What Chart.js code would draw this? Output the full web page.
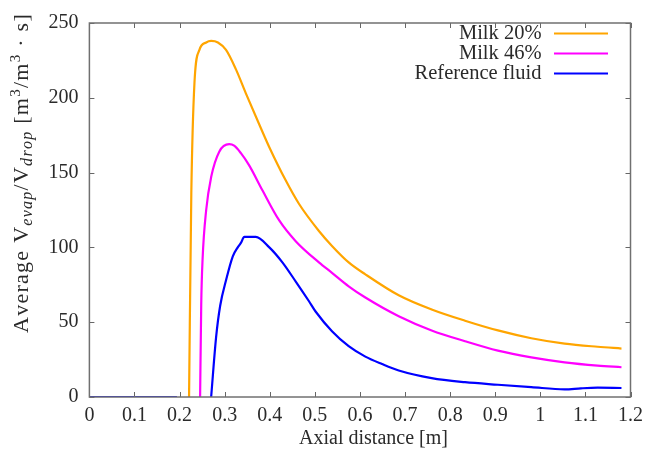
<!DOCTYPE html>
<html><head><meta charset="utf-8">
<script src="https://cdn.jsdelivr.net/npm/chart.js@4/dist/chart.umd.min.js"></script>
<style>html,body{margin:0;padding:0;background:#fff}#wrap{width:650px;height:451px;position:relative}</style>
</head><body><div id="wrap"><canvas id="c"></canvas></div>
<script>
const xTickValues = [0, 0.1, 0.2, 0.3, 0.4, 0.5, 0.6, 0.7, 0.8, 0.9, 1.0, 1.1, 1.2];
const xTickLabels = ['0', '0.1', '0.2', '0.3', '0.4', '0.5', '0.6', '0.7', '0.8', '0.9', '1', '1.1', '1.2'];
const yTickValues = [0, 50, 100, 150, 200, 250];
const seriesNames = ['Milk 20%', 'Milk 46%', 'Reference fluid'];
const xTitle = 'Axial distance [m]';

const milk20X = [0, 0.194, 0.2, 0.221, 0.226, 0.233, 0.244, 0.259, 0.27, 0.285, 0.303, 0.325, 0.347, 0.377, 0.399, 0.435, 0.465, 0.509, 0.538, 0.575, 0.612, 0.686, 0.759, 0.833, 0.906, 0.98, 1.054, 1.127, 1.18];
const milk20Y = [0, 0, null, 0, 136, 210, 232, 237, 238, 237, 232, 219, 203, 182, 167, 145, 129, 111, 101, 90, 82, 68, 58.5, 51, 44.5, 39.3, 35.7, 33.6, 32.4];

const milk46X = [0, 0.194, 0.2, 0.2455, 0.248, 0.251, 0.259, 0.27, 0.288, 0.31, 0.321, 0.336, 0.354, 0.384, 0.421, 0.458, 0.509, 0.538, 0.575, 0.612, 0.686, 0.759, 0.833, 0.906, 0.98, 1.054, 1.127, 1.18];
const milk46Y = [0, 0, null, 0, 62, 92, 125, 147, 164, 169, 168, 163, 155, 138, 118, 104, 90, 83, 74, 66.5, 54, 44.5, 37.3, 31, 26.5, 23.2, 21, 19.9];

const refX = [0, 0.194, 0.2, 0.27, 0.281, 0.29, 0.303, 0.318, 0.329, 0.336, 0.3435, 0.369, 0.399, 0.428, 0.458, 0.487, 0.502, 0.538, 0.575, 0.612, 0.649, 0.686, 0.759, 0.833, 0.906, 0.98, 1.054, 1.09, 1.127, 1.18];
const refY = [0, 0, null, 0, 40, 61, 78, 94, 100, 103, 107, 107, 100, 90, 77, 64, 57, 44, 34, 27, 22, 17.7, 12.6, 9.9, 8.2, 6.6, 5.1, 5.8, 6.2, 6];

const colors = ['#FFA500', '#FF00FF', '#0000FF'];
const FONT = '"Liberation Serif", "Times New Roman", serif';
const TEXT = '#2a2a2a';

function pts(xs, ys) { return xs.map((x, i) => ({x: x, y: ys[i]})); }

const decor = {
  id: 'decor',
  afterDraw(chart) {
    const ctx = chart.ctx;
    const a = chart.chartArea;
    const xs = chart.scales.x, ys = chart.scales.y;
    ctx.save();
    // inner ticks
    ctx.strokeStyle = '#666';
    ctx.lineWidth = 1;
    const TL = 5;
    xTickValues.forEach(v => {
      const p = Math.round(xs.getPixelForValue(v)) + 0.5;
      ctx.beginPath();
      ctx.moveTo(p, a.bottom); ctx.lineTo(p, a.bottom - TL);
      ctx.moveTo(p, a.top); ctx.lineTo(p, a.top + TL);
      ctx.stroke();
    });
    yTickValues.forEach(v => {
      const p = Math.round(ys.getPixelForValue(v)) + 0.5;
      ctx.beginPath();
      ctx.moveTo(a.left, p); ctx.lineTo(a.left + TL, p);
      ctx.moveTo(a.right, p); ctx.lineTo(a.right - TL, p);
      ctx.stroke();
    });
    // frame
    ctx.strokeStyle = '#707070';
    ctx.lineWidth = 1.5;
    ctx.strokeRect(a.left, a.top, a.right - a.left, a.bottom - a.top);

    // legend
    ctx.font = '20.5px ' + FONT;
    ctx.fillStyle = TEXT;
    ctx.textAlign = 'right';
    ctx.textBaseline = 'middle';
    seriesNames.forEach((n, i) => {
      const y = 33.5 + i * 20;
      ctx.fillText(n, 541.5, y);
      ctx.strokeStyle = colors[i];
      ctx.lineWidth = 2.2;
      ctx.beginPath();
      ctx.moveTo(554, y); ctx.lineTo(608, y);
      ctx.stroke();
    });

    // x title
    ctx.textAlign = 'center';
    ctx.textBaseline = 'alphabetic';
    ctx.fillStyle = TEXT;
    ctx.font = '20px ' + FONT;
    ctx.fillText(xTitle, 373.5, 444);

    // y title (rotated, with sub/superscripts), spread to span y=333..13
    const parts = [
      ['Average V', 'n'], ['evap', 'sub'], ['/V', 'n'], ['drop', 'sub'],
      [' [m', 'n'], ['3', 'sup'], ['/m', 'n'], ['3', 'sup'], [' \u00B7 s]', 'n']
    ];
    const setF = k => {
      if (k === 'n') ctx.font = '22px ' + FONT;
      else if (k === 'sub') ctx.font = 'italic 16px ' + FONT;
      else ctx.font = '15px ' + FONT;
    };
    let total = 0, nch = 0;
    parts.forEach(([t, k]) => { setF(k); for (const ch of t) { total += ctx.measureText(ch).width; nch++; } });
    const sp = Math.max(0, (320 - total) / nch);
    ctx.translate(28, 333);
    ctx.rotate(-Math.PI / 2);
    ctx.textAlign = 'left';
    let cx = 0;
    parts.forEach(([t, k]) => {
      setF(k);
      const dy = k === 'sub' ? 4 : (k === 'sup' ? -8.5 : 0);
      for (const ch of t) {
        ctx.fillText(ch, cx, dy);
        cx += ctx.measureText(ch).width + sp;
      }
    });
    ctx.restore();
  }
};

const chart = new Chart(document.getElementById('c'), {
  type: 'line',
  data: {
    datasets: [
      {label: seriesNames[0], data: pts(milk20X, milk20Y), borderColor: colors[0], order: 2},
      {label: seriesNames[1], data: pts(milk46X, milk46Y), borderColor: colors[1], order: 1},
      {label: seriesNames[2], data: pts(refX, refY), borderColor: colors[2], order: 0}
    ].map(d => Object.assign(d, {borderWidth: 2.2, pointRadius: 0, fill: false, spanGaps: false, cubicInterpolationMode: 'monotone'}))
  },
  options: {
    responsive: true,
    maintainAspectRatio: false,
    animation: false,
    layout: {padding: {left: 0, top: 19, right: 17, bottom: 0}},
    plugins: {legend: {display: false}, tooltip: {enabled: false}},
    scales: {
      x: {
        type: 'linear', min: 0, max: 1.2,
        afterBuildTicks: s => { s.ticks = xTickValues.map(v => ({value: v})); },
        afterFit: s => { s.height = 54; },
        grid: {display: false, drawTicks: false},
        border: {display: false},
        ticks: {
          autoSkip: false, maxRotation: 0, padding: 7, color: TEXT,
          font: {family: FONT, size: 20},
          callback: (v, i) => xTickLabels[i]
        }
      },
      y: {
        type: 'linear', min: 0, max: 250,
        afterBuildTicks: s => { s.ticks = yTickValues.map(v => ({value: v})); },
        afterFit: s => { s.width = 89.4; },
        grid: {display: false, drawTicks: false},
        border: {display: false},
        ticks: {padding: 11, color: TEXT, font: {family: FONT, size: 20}}
      }
    }
  },
  plugins: [decor]
});
</script>
</body></html>
